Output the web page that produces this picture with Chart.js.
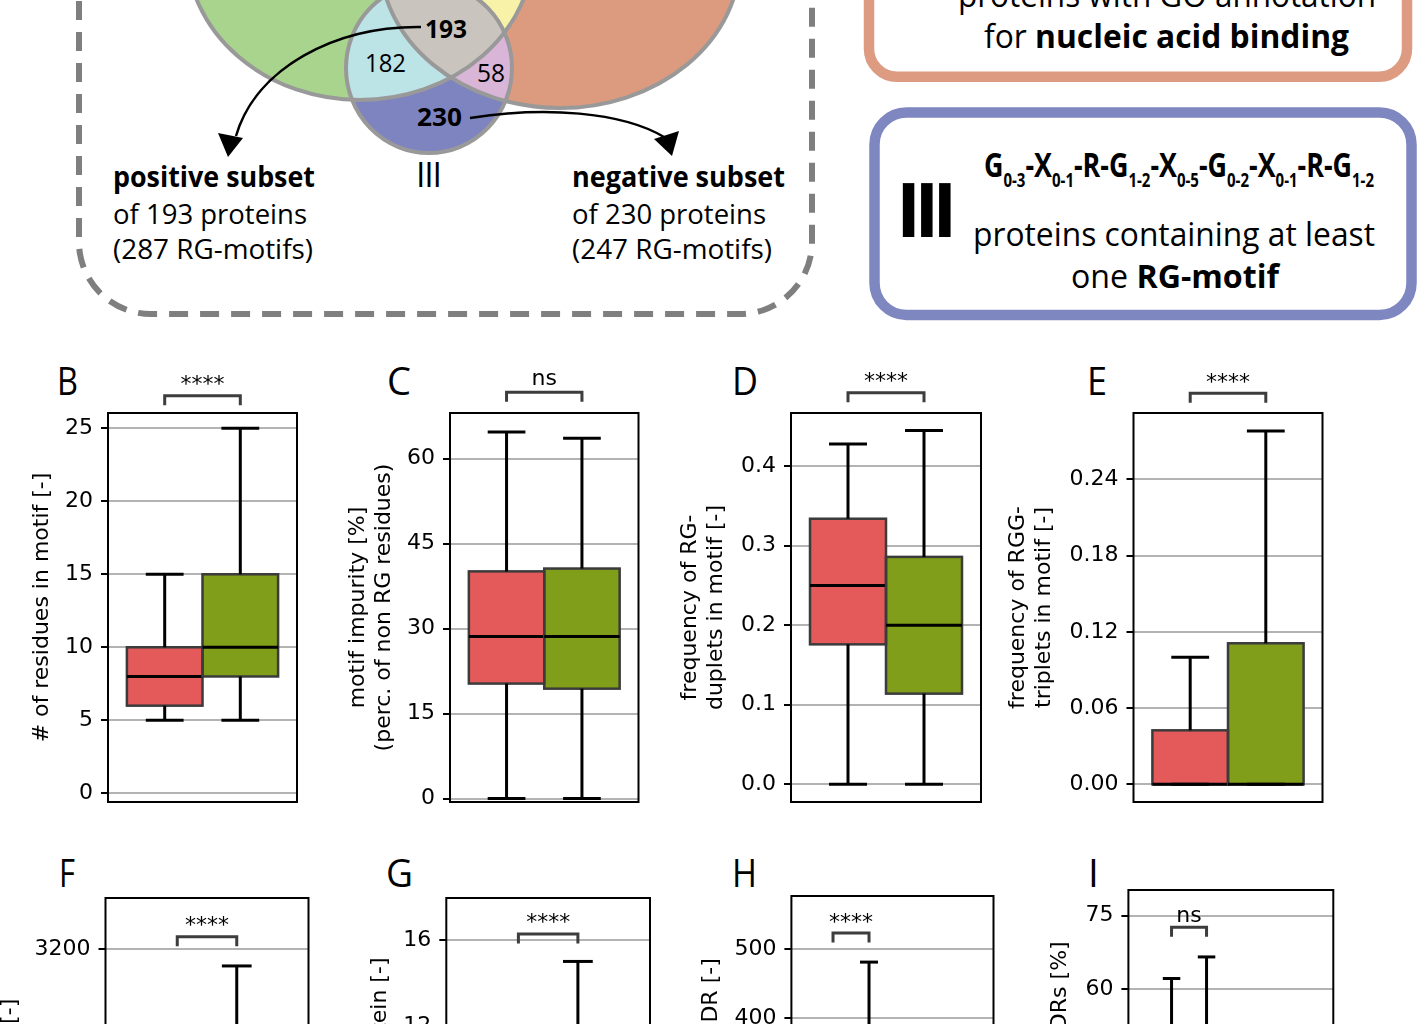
<!DOCTYPE html>
<html><head><meta charset="utf-8">
<script src="https://cdn.jsdelivr.net/npm/chart.js"></script>
<style>
html,body{margin:0;padding:0;width:1417px;height:1024px;overflow:hidden;background:#fff;}
#deco{position:absolute;left:0;top:0;}
canvas{position:absolute;}
</style></head><body>
<svg id="deco" width="1417" height="1024" xmlns="http://www.w3.org/2000/svg"></svg>
<script>
// ---------------- DATA ----------------
const groups = ['positive subset', 'negative subset'];
// Venn counts: I∩II∩III, I∩III, II∩III, III only
const vennCounts = [193, 182, 58, 230];
const subsetProteins = [193, 230];
const subsetMotifs = [287, 247];
const panelLetters = ['B', 'C', 'D', 'E', 'F', 'G', 'H', 'I'];
const significance = ['****', 'ns', '****', '****', '****', '****', '****', 'ns'];
const yTitles = [
  ['# of residues in motif [-]'],
  ['motif impurity [%]', '(perc. of non RG residues)'],
  ['frequency of RG-', 'duplets in motif [-]'],
  ['frequency of RGG-', 'triplets in motif [-]'],
  ['protein length [-]'],
  ['RG-motifs per protein [-]'],
  ['motif distance to IDR [-]'],
  ['motif residues in IDRs [%]']
];
// five-number summaries: [lower whisker, Q1, median, Q3, upper whisker]
const residuesPos = [5, 6, 8, 10, 15];
const residuesNeg = [5, 8, 10, 15, 25];
const impurityPos = [0, 20.3, 28.6, 40.1, 64.7];
const impurityNeg = [0, 19.4, 28.6, 40.6, 63.6];
const dupletsPos = [0, 0.176, 0.25, 0.334, 0.428];
const dupletsNeg = [0, 0.114, 0.2, 0.286, 0.445];
const tripletsPos = [0, 0, 0, 0.0425, 0.1];
const tripletsNeg = [0, 0, 0, 0.111, 0.278];
const lengthPos = [80, 350, 560, 900, 1900];
const lengthNeg = [90, 520, 900, 1500, 3045];
const motifsPos = [1, 1, 2, 4, 9];
const motifsNeg = [1, 2, 4, 7, 15];
const idrPos = [20, 50, 90, 160, 330];
const idrNeg = [20, 70, 130, 240, 481];
const inIdrPos = [0, 4, 12, 28, 62.2];
const inIdrNeg = [0, 5, 14, 30, 66.6];
// tick values
const residuesTicks = [0, 5, 10, 15, 20, 25];
const impurityTicks = [0, 15, 30, 45, 60];
const dupletsTicks = [0, 0.1, 0.2, 0.3, 0.4];
const tripletsTicks = [0, 0.06, 0.12, 0.18, 0.24];
const lengthTicks = [0, 800, 1600, 2400, 3200];
const motifsTicks = [0, 4, 8, 12, 16];
const idrTicks = [0, 100, 200, 300, 400, 500];
const inIdrTicks = [0, 15, 30, 45, 60, 75];

// ---------------- STYLE / LAYOUT ----------------
const RED = '#E45A5B', GREEN = '#809E19';
const seriesStats = [
  [residuesPos, residuesNeg, residuesTicks], [impurityPos, impurityNeg, impurityTicks],
  [dupletsPos, dupletsNeg, dupletsTicks], [tripletsPos, tripletsNeg, tripletsTicks],
  [lengthPos, lengthNeg, lengthTicks], [motifsPos, motifsNeg, motifsTicks],
  [idrPos, idrNeg, idrTicks], [inIdrPos, inIdrNeg, inIdrTicks]
];
const layout = [
  {L:108, R:297, T:413, B:802, cl:29, padTop:58, bw:75.6, xmin:-0.5, xmax:0.5, ymin:-0.6, ymax:26.05, dec:0, bt:-17.3, gap:4.5, lx:57, ly:395, lw:21},
  {L:450, R:638.5, T:413, B:802, cl:345, padTop:58, bw:75.4, xmin:-0.5, xmax:0.5, ymin:-0.6, ymax:68.05, dec:0, bt:-20.7, gap:7, lx:387, ly:395, lw:24},
  {L:791, R:981, T:413, B:802, cl:677, padTop:58, bw:76, xmin:-0.5, xmax:0.5, ymin:-0.0223, ymax:0.467, dec:1, bt:-20.3, gap:4.7, lx:732, ly:395, lw:26},
  {L:1133.5, R:1322.5, T:413, B:802, cl:1005, padTop:58, bw:75.6, xmin:-0.5, xmax:0.5, ymin:-0.0139, ymax:0.2922, dec:2, bt:-19.7, gap:4.6, lx:1087, ly:395, lw:20},
  {L:105.5, R:308.5, T:898, B:1287, cl:-3, padTop:38, bw:59.5, xmin:-0.5, xmax:0.5, ymin:120, ymax:3664, dec:0, bt:38.7, gap:4.7, lx:59, ly:887, lw:16},
  {L:446.3, R:650, T:898, B:1287, cl:367, padTop:38, bw:59.5, xmin:-0.5, xmax:0.5, ymin:-0.14, ymax:17.95, dec:0, bt:36, gap:5, lx:386, ly:887, lw:27},
  {L:791.4, R:993.5, T:896, B:1285, cl:698, padTop:38, bw:36, xmin:-0.295, xmax:0.705, ymin:13, ymax:576.8, dec:0, bt:37, gap:4.5, lx:732, ly:887, lw:25},
  {L:1128.4, R:1333.3, T:890, B:1279, cl:1047, padTop:38, bw:35, xmin:-0.296, xmax:0.704, ymin:0.97, ymax:80.24, dec:0, bt:37.3, gap:5.3, lx:1088, ly:887, lw:0}
];

// ---------------- DECORATION (Venn + boxes) ----------------
const F = 'font-family="Open Sans"';
function t(x, y, size, txt, tl, extra) {
  return `<text x="${x}" y="${y}" ${F} font-size="${size}" ${tl ? `textLength="${tl}" lengthAdjust="spacingAndGlyphs"` : ''} ${extra || ''}>${txt}</text>`;
}
const S = (lo, hi) => `<tspan font-size="19" dy="10">${lo}-${hi}</tspan>`;
let svgHtml = `
<defs>
 <clipPath id="cG"><ellipse cx="360" cy="-50" rx="173" ry="150"/></clipPath>
 <clipPath id="cS"><ellipse cx="560" cy="-41" rx="180" ry="149"/></clipPath>
 <clipPath id="c3"><ellipse cx="429" cy="68" rx="83" ry="85"/></clipPath>
</defs>
<path d="M79,-30 L79,242 A72,72 0 0 0 151,314 L740,314 A72,72 0 0 0 812,242 L812,-30" fill="none" stroke="#7f7f7f" stroke-width="6" stroke-dasharray="19 12"/>
<ellipse cx="360" cy="-50" rx="173" ry="150" fill="#A8D48D"/>
<ellipse cx="560" cy="-41" rx="180" ry="149" fill="#DC9A7F"/>
<g clip-path="url(#cG)"><ellipse cx="560" cy="-41" rx="180" ry="149" fill="#F7F2A8"/></g>
<ellipse cx="429" cy="68" rx="83" ry="85" fill="#7E84BF"/>
<g clip-path="url(#c3)"><ellipse cx="560" cy="-41" rx="180" ry="149" fill="#D9B5D8"/></g>
<g clip-path="url(#c3)"><ellipse cx="360" cy="-50" rx="173" ry="150" fill="#BCE3E6"/></g>
<g clip-path="url(#c3)"><g clip-path="url(#cG)"><ellipse cx="560" cy="-41" rx="180" ry="149" fill="#C9C5BE"/></g></g>
<g fill="none" stroke="#999" stroke-width="4">
 <ellipse cx="360" cy="-50" rx="173" ry="150"/>
 <ellipse cx="560" cy="-41" rx="180" ry="149"/>
 <ellipse cx="429" cy="68" rx="83" ry="85"/>
</g>
<path d="M421,27 C335,26 256,68 236,136" fill="none" stroke="#000" stroke-width="2.5"/>
<polygon points="228,157 218,133 243,138" fill="#000"/>
<path d="M470,118 C545,106 622,112 664,137" fill="none" stroke="#000" stroke-width="2.5"/>
<polygon points="672,156 654,139 679,131" fill="#000"/>
${t(425, 38, 25, vennCounts[0], 42, 'font-weight="700"')}
${t(365, 72, 25, vennCounts[1], 41)}
${t(477, 82, 25, vennCounts[2], 28)}
${t(417, 126, 25, vennCounts[3], 45, 'font-weight="700"')}
<text x="416" y="187" ${F} font-size="34" textLength="26" lengthAdjust="spacing">III</text>
${t(113, 187, 28, groups[0], 202, 'font-weight="700"')}
${t(113, 224, 28, `of ${subsetProteins[0]} proteins`, 194)}
${t(113, 259, 28, `(${subsetMotifs[0]} RG-motifs)`, 200)}
${t(572, 187, 28, groups[1], 213, 'font-weight="700"')}
${t(572, 224, 28, `of ${subsetProteins[1]} proteins`, 194)}
${t(572, 259, 28, `(${subsetMotifs[1]} RG-motifs)`, 200)}
<rect x="869" y="-60" width="538" height="136.7" rx="28" fill="none" stroke="#DD9B81" stroke-width="10.5"/>
${t(958, 7, 32, 'proteins with GO annotation', 418)}
<text x="984" y="48" ${F} font-size="32" textLength="365" lengthAdjust="spacingAndGlyphs">for <tspan font-weight="700">nucleic acid binding</tspan></text>
<rect x="874.5" y="112.5" width="537" height="202.5" rx="32" fill="none" stroke="#7F87C0" stroke-width="10.5"/>
<text x="896" y="237" ${F} font-size="76" font-weight="700" letter-spacing="-7">III</text>
<text x="984" y="177" ${F} font-size="34" font-weight="700" textLength="390" lengthAdjust="spacingAndGlyphs">G${S(0,3)}<tspan dy="-10">-X</tspan>${S(0,1)}<tspan dy="-10">-R-G</tspan>${S(1,2)}<tspan dy="-10">-X</tspan>${S(0,5)}<tspan dy="-10">-G</tspan>${S(0,2)}<tspan dy="-10">-X</tspan>${S(0,1)}<tspan dy="-10">-R-G</tspan>${S(1,2)}</text>
${t(973, 246, 32, 'proteins containing at least', 402)}
<text x="1071" y="288" ${F} font-size="32" textLength="208" lengthAdjust="spacingAndGlyphs">one <tspan font-weight="700">RG-motif</tspan></text>
`;
layout.forEach((p, i) => {
  svgHtml += t(p.lx, p.ly, 39, panelLetters[i], p.lw || null);
});
document.getElementById('deco').innerHTML = svgHtml;

// ---------------- CHARTS ----------------
function boxPlugin(p, sig) {
  return {
    id: 'boxplot',
    afterDatasetsDraw(chart) {
      const ctx = chart.ctx, y = chart.scales.y;
      const py = v => y.getPixelForValue(v);
      const seg = (x1, y1, x2, y2) => { ctx.beginPath(); ctx.moveTo(x1, y1); ctx.lineTo(x2, y2); ctx.stroke(); };
      ctx.save();
      chart.data.datasets.forEach((ds, i) => {
        const el = chart.getDatasetMeta(i).data[0];
        const x = el.x, w = el.width;
        const [lo, q1, med, q3, hi] = ds.stats;
        ctx.lineWidth = 2.5; ctx.strokeStyle = '#3b3b3b';
        ctx.strokeRect(x - w / 2, py(q3), w, py(q1) - py(q3));
        ctx.strokeStyle = '#000'; ctx.lineWidth = 3;
        seg(x, py(q3), x, py(hi)); seg(x, py(q1), x, py(lo));
        seg(x - w / 4, py(hi), x + w / 4, py(hi)); seg(x - w / 4, py(lo), x + w / 4, py(lo));
        seg(x - w / 2, py(med), x + w / 2, py(med));
      });
      ctx.restore();
    },
    afterDraw(chart) {
      const {ctx, chartArea: a} = chart;
      ctx.save();
      ctx.strokeStyle = '#000'; ctx.lineWidth = 2;
      ctx.strokeRect(a.left, a.top, a.right - a.left, a.bottom - a.top);
      const xs = [0, 1].map(i => chart.getDatasetMeta(i).data[0].x);
      const bt = a.top + p.bt;
      ctx.strokeStyle = '#3d3d3d'; ctx.lineWidth = 3;
      ctx.beginPath(); ctx.moveTo(xs[0], bt + 9.5); ctx.lineTo(xs[0], bt); ctx.lineTo(xs[1], bt); ctx.lineTo(xs[1], bt + 9.5); ctx.stroke();
      ctx.fillStyle = '#000'; ctx.font = '22px "DejaVu Sans"'; ctx.textAlign = 'center'; ctx.textBaseline = 'alphabetic';
      ctx.fillText(sig, (xs[0] + xs[1]) / 2, bt - p.gap);
      ctx.restore();
    }
  };
}

layout.forEach((p, i) => {
  const [pos, neg, ticks] = seriesStats[i];
  const ct = p.T - p.padTop;
  const w = Math.round(p.R - p.cl + 12);
  const h = Math.round(p.B - ct + 30);
  const cv = document.createElement('canvas');
  cv.width = w; cv.height = h;
  cv.style.left = p.cl + 'px'; cv.style.top = ct + 'px';
  cv.style.width = w + 'px'; cv.style.height = h + 'px';
  document.body.appendChild(cv);
  new Chart(cv, {
    type: 'bar',
    data: {
      datasets: [
        {label: groups[0], data: [{x: 0, y: [pos[1], pos[3]]}], stats: pos, backgroundColor: RED, borderWidth: 0, barThickness: p.bw},
        {label: groups[1], data: [{x: 0, y: [neg[1], neg[3]]}], stats: neg, backgroundColor: GREEN, borderWidth: 0, barThickness: p.bw}
      ]
    },
    options: {
      responsive: false, animation: false, devicePixelRatio: 1,
      layout: {padding: {left: 0, top: p.padTop, right: w - (p.R - p.cl), bottom: h - (p.B - ct)}},
      plugins: {legend: {display: false}, tooltip: {enabled: false}},
      scales: {
        x: {type: 'linear', display: false, min: p.xmin, max: p.xmax, offset: false},
        y: {
          min: p.ymin, max: p.ymax,
          afterFit: s => { s.width = p.L - p.cl; },
          afterBuildTicks: s => { s.ticks = ticks.filter(v => v >= p.ymin && v <= p.ymax).map(v => ({value: v})); },
          ticks: {color: '#000', padding: 8, font: {family: 'DejaVu Sans', size: 22}, callback: v => Number(v).toFixed(p.dec)},
          grid: {color: '#b3b3b3', lineWidth: 2, tickColor: '#000', tickWidth: 2, tickLength: 7, drawTicks: true},
          border: {display: false},
          title: {display: true, text: yTitles[i], color: '#000', font: {family: 'DejaVu Sans', size: 22, lineHeight: 1.2}, padding: {top: 0, bottom: 0}}
        }
      }
    },
    plugins: [boxPlugin(p, significance[i])]
  });
});
</script>
</body></html>
